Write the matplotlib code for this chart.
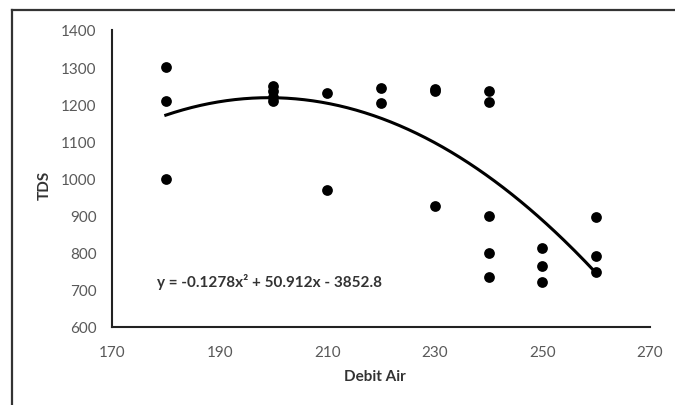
import matplotlib
matplotlib.use("Agg")
import matplotlib.pyplot as plt
import numpy as np
from matplotlib.lines import Line2D

debit_air = [180, 180, 180,
             200, 200, 200, 200,
             210, 210,
             220, 220,
             230, 230, 230,
             240, 240, 240, 240, 240,
             250, 250, 250,
             260, 260, 260]
tds = [1300, 1210, 1000,
       1250, 1235, 1220, 1210,
       1230, 970,
       1243, 1203,
       1240, 1235, 927,
       1235, 1205, 900, 800, 735,
       812, 765, 722,
       897, 790, 749]

coef = [-0.1278, 50.912, -3852.8]
equation = "y = -0.1278x² + 50.912x - 3852.8"
xticks = [170, 190, 210, 230, 250, 270]
yticks = [600, 700, 800, 900, 1000, 1100, 1200, 1300, 1400]

plt.rcParams['font.family'] = ['Lato', 'DejaVu Sans']

fig = plt.figure(figsize=(6.75, 4.06), dpi=100)
ax = fig.add_axes([112/675, 78/406, 538/675, 297/406])

ax.scatter(debit_air, tds, s=60, color='black', zorder=3, linewidths=0)
xs = np.linspace(min(debit_air), max(debit_air), 200)
ax.plot(xs, np.polyval(coef, xs), color='black', lw=2.2, zorder=2)

ax.set_xlim(170, 270)
ax.set_ylim(600, 1400)
ax.set_xticks(xticks)
ax.set_yticks(yticks)
ax.tick_params(length=0, labelsize=11, labelcolor='#595959')
ax.tick_params(axis='y', pad=11)
ax.tick_params(axis='x', pad=13)
for s in ['top', 'right']:
    ax.spines[s].set_visible(False)
for s in ['left', 'bottom']:
    ax.spines[s].set_linewidth(1.5)
    ax.spines[s].set_color('#222222')

ax.set_xlabel('Debit Air', fontsize=11, fontweight='bold', color='#333333')
ax.set_ylabel('TDS', fontsize=11, fontweight='bold', color='#333333')
ax.xaxis.set_label_coords((375-112)/538, -(370-328)/297)
ax.yaxis.set_label_coords(-(112-52)/538, (328-185)/297)

ax.text(0.083, 0.155, equation, transform=ax.transAxes, fontsize=11,
        fontweight='bold', color='#333333', va='center', ha='left')

# outer frame
fig.add_artist(Line2D([12/675, 1.0], [1-11/406, 1-11/406], color='#333333', lw=1.6, transform=fig.transFigure))
fig.add_artist(Line2D([12/675, 12/675], [1-11/406, 0.0], color='#333333', lw=1.6, transform=fig.transFigure))

fig.savefig('out.png', dpi=100)
